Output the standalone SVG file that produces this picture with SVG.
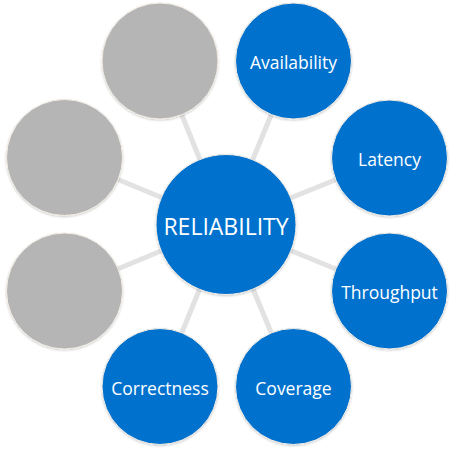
<svg xmlns="http://www.w3.org/2000/svg" width="450" height="450" viewBox="0 0 450 450">
<defs>
<filter id="sh" x="-20%" y="-20%" width="140%" height="140%">
<feDropShadow dx="0" dy="1" stdDeviation="1" flood-color="#000" flood-opacity="0.2"/>
</filter>
<style>
.c{stroke:#F4EEE4;stroke-width:1;filter:url(#sh)}
.b{fill:#0672CE}
.g{fill:#B5B5B5}
.t{fill:#fff;font-family:"Open Sans","Noto Sans",sans-serif;font-size:17.5px;text-anchor:middle;dominant-baseline:central}
.ct{font-size:23px}
#conn line{stroke:#E2E2E2;stroke-width:5}
</style>
</defs>
<rect width="450" height="450" fill="#fff"/>
<g id="conn">
<line x1="226" y1="224" x2="160" y2="61"/>
<line x1="226" y1="224" x2="293.5" y2="61"/>
<line x1="226" y1="224" x2="389.5" y2="158"/>
<line x1="226" y1="224" x2="389.5" y2="291"/>
<line x1="226" y1="224" x2="293.5" y2="386.5"/>
<line x1="226" y1="224" x2="160" y2="386.5"/>
<line x1="226" y1="224" x2="64.5" y2="291"/>
<line x1="226" y1="224" x2="64.5" y2="157.5"/>
</g>
<g id="gray1"><circle class="c g" cx="160" cy="61" r="58"/></g>
<g id="availability"><circle class="c b" cx="293.5" cy="61" r="58"/><text class="t" x="293.5" y="62">Availability</text></g>
<g id="latency"><circle class="c b" cx="389.5" cy="158" r="58"/><text class="t" x="389.5" y="159">Latency</text></g>
<g id="throughput"><circle class="c b" cx="389.5" cy="291" r="58"/><text class="t" x="389.5" y="292">Throughput</text></g>
<g id="coverage"><circle class="c b" cx="293.5" cy="386.5" r="58"/><text class="t" x="293.5" y="387.5">Coverage</text></g>
<g id="correctness"><circle class="c b" cx="160" cy="386.5" r="58"/><text class="t" x="160" y="387.5">Correctness</text></g>
<g id="gray2"><circle class="c g" cx="64.5" cy="291" r="58"/></g>
<g id="gray3"><circle class="c g" cx="64.5" cy="157.5" r="58"/></g>
<g id="reliability"><circle class="c b" cx="226" cy="224.5" r="70"/><text class="t ct" x="226" y="225.5">RELIABILITY</text></g>
</svg>
